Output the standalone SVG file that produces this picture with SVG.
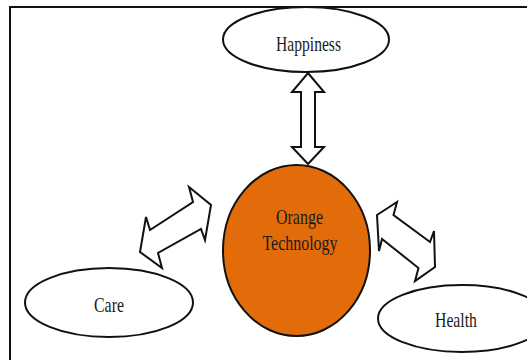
<svg xmlns="http://www.w3.org/2000/svg" width="527" height="360" viewBox="0 0 527 360">
<style>
.frame{fill:none;stroke:#111;stroke-width:2}
.oval{fill:#fff;stroke:#111;stroke-width:2}
.core{fill:#E36C0A;stroke:#111;stroke-width:2}
.arrow{fill:#fff;stroke:#111;stroke-width:2;stroke-linejoin:miter}
text{font-family:"Liberation Serif","Times New Roman",serif;font-size:22px;fill:#1a1a1a;text-anchor:middle}
</style>
<rect width="527" height="360" fill="#fff"/>
<rect class="frame" x="10" y="7" width="540" height="370"/>
<g id="connectors">
<polygon class="arrow" points="308,73 324,92 315,92 315,147 324,147 308,164 292,147 301,147 301,92 292,92"/>
<polygon class="arrow" points="189,187 211,205 205,240 201,229 158,253 162,268 140,252 146,217 150,230 193,202"/>
<polygon class="arrow" points="377,215 397,202 393.5,215 430,242 434,231 435,267 415,281 418.5,268 382,239 379,251"/>
</g>
<g id="happiness">
<ellipse class="oval" cx="306" cy="39.5" rx="83" ry="32.5"/>
<text x="308.5" y="51" textLength="65" lengthAdjust="spacingAndGlyphs">Happiness</text>
</g>
<g id="orange-technology">
<ellipse class="core" cx="296.5" cy="250.5" rx="73.5" ry="85.5"/>
<text x="299.5" y="223.5" textLength="47" lengthAdjust="spacingAndGlyphs">Orange</text>
<text x="300" y="250" textLength="75" lengthAdjust="spacingAndGlyphs">Technology</text>
</g>
<g id="care">
<ellipse class="oval" cx="109" cy="302.5" rx="84" ry="34.5"/>
<text x="109" y="312" textLength="30" lengthAdjust="spacingAndGlyphs">Care</text>
</g>
<g id="health">
<ellipse class="oval" cx="462" cy="318.5" rx="84" ry="33.5"/>
<text x="456" y="327" textLength="42" lengthAdjust="spacingAndGlyphs">Health</text>
</g>
</svg>
